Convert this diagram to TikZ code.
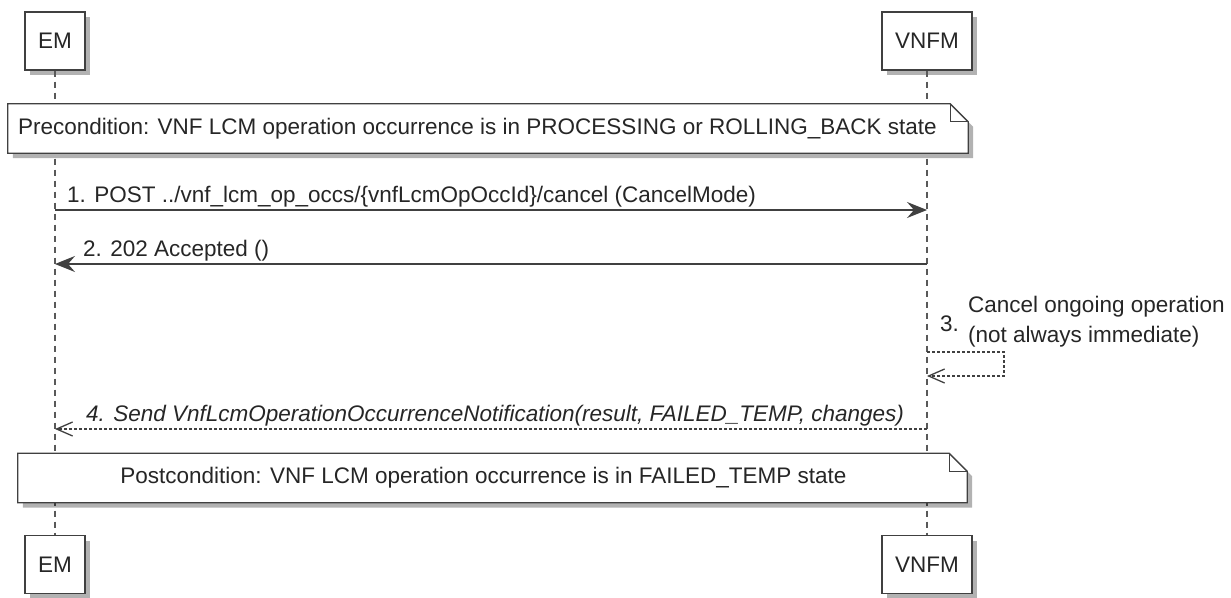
\documentclass[tikz,border=0pt]{standalone}
\usepackage{fontspec}
\setmainfont{Liberation Sans}
\usetikzlibrary{positioning,arrows.meta,shadows}

\begin{document}
\begin{tikzpicture}[x=1pt,y=-1pt,
  font=\fontsize{22.5}{30}\selectfont, text=black!85,
  party/.style = {draw=black!75, fill=white, line width=1.3pt, minimum height=58pt, inner sep=0pt,
    drop shadow={shadow xshift=5pt, shadow yshift=-5pt, fill=black, opacity=.3}},
  life/.style = {draw=black!65, line width=1.2pt, dash pattern=on 6pt off 5pt},
  note/.style = {inner sep=0pt, minimum height=49pt},
  noteline/.style = {draw=black!75, line width=1.3pt, line join=miter},
  msg/.style = {draw=black!75, line width=1.3pt, -{Stealth[length=20pt,width=16pt,inset=7pt]}},
  reply/.style = {draw=black!75, line width=1.3pt, dash pattern=on 3pt off 2pt, -{Straight Barb[length=16pt,width=14pt]}},
  lbl/.style = {inner sep=0pt, text depth=5pt}]
\useasboundingbox (0,0) rectangle (1231,597);

% participants
\node[party, minimum width=60pt] (emtop) at (55,41) {EM};
\node[party, minimum width=90pt] (vnfmtop) at (927,41) {VNFM};
\node[party, minimum width=60pt] (embot) at (55,564.5) {EM};
\node[party, minimum width=90pt] (vnfmbot) at (927,564.5) {VNFM};
\draw[life] (emtop) -- (embot);
\draw[life] (vnfmtop) -- (vnfmbot);

% precondition
\node[note, minimum width=960pt] (pre) at (488,128.5) {};
\draw[noteline, fill=white, drop shadow={shadow xshift=5pt, shadow yshift=-5pt, fill=black, opacity=.3}]
  (pre.north west) -- ([xshift=-18pt]pre.north east) -- ([yshift=-18pt]pre.north east) -- (pre.south east) -- (pre.south west) -- cycle;
\draw[noteline] ([xshift=-18pt]pre.north east) |- ([yshift=-18pt]pre.north east);
\node[inner sep=0pt, anchor=west] (pretxt) at ([xshift=10pt]pre.west) {Precondition: VNF LCM operation occurrence is in PROCESSING or ROLLING\_BACK state};

% messages
\coordinate (em1) at (55,210);
\coordinate (vnfm1) at (927,210);
\coordinate (em2) at (55,264);
\coordinate (vnfm2) at (927,264);
\coordinate (vnfm3a) at (927,352);
\coordinate (vnfm3b) at (927,376);
\coordinate (em4) at (55,429);
\coordinate (vnfm4) at (927,429);

\draw[msg] (em1) -- (vnfm1);
\node[lbl, above right=2pt and 12pt of em1] (t1) {1. POST ../vnf\_lcm\_op\_occs/\{vnfLcmOpOccId\}/cancel (CancelMode)};
\draw[msg] (vnfm2) -- (em2);
\node[lbl, above right=2pt and 28pt of em2] (t2) {2. 202 Accepted ()};
\draw[reply] (vnfm3a) -| ([xshift=77pt]vnfm3b) -- (vnfm3b);
\node[inner sep=0pt, anchor=west] (t3n) at (940,324) {3.};
\node[inner sep=0pt, anchor=west, align=left] (t3) at (968,322) {Cancel ongoing operation\\(not always immediate)};
\draw[reply] (vnfm4) -- (em4);
\node[lbl, above right=2pt and 31pt of em4, font=\fontsize{22.5}{30}\selectfont\itshape] (t4) {4. Send VnfLcmOperationOccurrenceNotification(result, FAILED\_TEMP, changes)};

% postcondition
\node[note, minimum width=949pt] (post) at (492.5,478) {};
\draw[noteline, fill=white, drop shadow={shadow xshift=5pt, shadow yshift=-5pt, fill=black, opacity=.3}]
  (post.north west) -- ([xshift=-18pt]post.north east) -- ([yshift=-18pt]post.north east) -- (post.south east) -- (post.south west) -- cycle;
\draw[noteline] ([xshift=-18pt]post.north east) |- ([yshift=-18pt]post.north east);
\node[inner sep=0pt] (posttxt) at ([xshift=-9pt]post.center) {Postcondition: VNF LCM operation occurrence is in FAILED\_TEMP state};
\end{tikzpicture}
\end{document}
